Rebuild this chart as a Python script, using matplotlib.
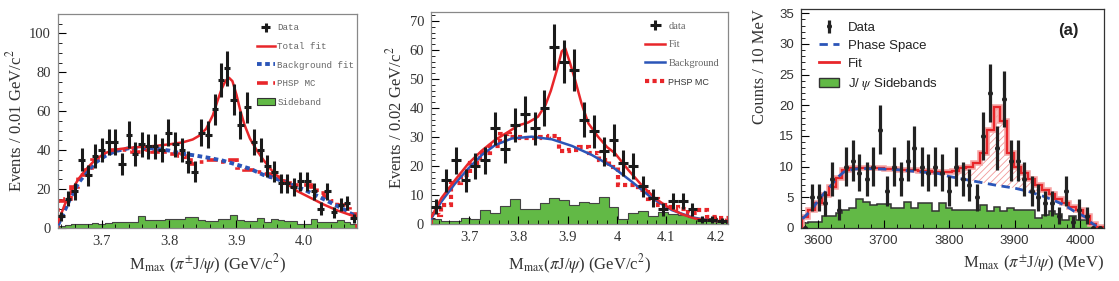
import numpy as np
import matplotlib
matplotlib.use("Agg")
import matplotlib.pyplot as plt
from matplotlib.lines import Line2D
from matplotlib.patches import Patch
from matplotlib.ticker import MultipleLocator, FuncFormatter

plt.rcParams['font.family'] = ['Liberation Serif', 'DejaVu Serif']
plt.rcParams['mathtext.fontset'] = 'stix'
plt.rcParams['hatch.linewidth'] = 0.6

# ---------------- Panel 1 (0.01 GeV bins) ----------------
p1_x = [3.640, 3.650, 3.660, 3.670, 3.680, 3.690, 3.700, 3.710, 3.719, 3.730,
        3.740, 3.749, 3.759, 3.769, 3.779, 3.789, 3.799, 3.809, 3.819, 3.828,
        3.838, 3.848, 3.858, 3.868, 3.877, 3.886, 3.896, 3.906, 3.916, 3.926,
        3.936, 3.946, 3.956, 3.966, 3.975, 3.985, 3.995, 4.005, 4.015, 4.025,
        4.035, 4.045, 4.055, 4.064, 4.074]
p1_data = [6, 15, 19, 35, 27, 37, 40, 44, 44, 33,
           48, 38, 43, 42, 42, 40, 49, 43, 40, 34,
           29, 49, 48, 61, 76, 82, 66, 53, 62, 44,
           40, 32, 29, 23, 23, 21, 24, 24, 19, 10,
           19, 8, 12, 13, 5]
p1_phsp = [14, 15, 21, 27, 31, 35, 38, 39, 40, 40,
           40, 39, 39, 40, 39, 40, 38, 38, 37, 35,
           33, 34, 35, 35, 34, 34, 35, 31, 30, 30,
           29, 28, 26, 24, 23, 22, 22, 22, 21, 18,
           16, 14, 12, 10, 7]
p1_side = [1.0, 1.4, 2.2, 2.2, 1.8, 2.6, 1.9, 2.6, 3.3, 3.0,
           3.3, 3.3, 6.0, 4.0, 4.0, 4.0, 4.8, 4.8, 4.8, 5.7,
           5.7, 4.0, 3.6, 3.6, 4.8, 4.8, 6.9, 4.3, 3.6, 3.6,
           5.3, 3.1, 4.8, 4.0, 3.6, 3.6, 2.2, 2.2, 4.8, 3.1,
           3.1, 3.1, 4.0, 2.9, 2.2]
p1_fit_x = [3.635, 3.645, 3.655, 3.665, 3.675, 3.690, 3.705, 3.720, 3.740, 3.760,
            3.780, 3.800, 3.820, 3.835, 3.845, 3.855, 3.865, 3.872, 3.878, 3.884,
            3.889, 3.894, 3.900, 3.906, 3.912, 3.920, 3.930, 3.940, 3.955, 3.970,
            3.990, 4.010, 4.030, 4.050, 4.079]
p1_fit_y = [3, 12, 19, 25, 29.5, 35, 38.5, 40.3, 41.2, 41.7,
            42.2, 43.0, 44, 45.5, 47.5, 51, 58, 65.5, 71.5, 75.8,
            77.2, 75.5, 68.5, 60, 53, 46, 40, 35, 28.5, 24,
            19, 15.5, 12, 9, 5.5]
p1_bkg_x = [3.635, 3.645, 3.655, 3.665, 3.675, 3.690, 3.705, 3.720, 3.740, 3.760,
            3.780, 3.800, 3.820, 3.840, 3.860, 3.880, 3.900, 3.920, 3.940, 3.960,
            3.980, 4.000, 4.020, 4.040, 4.060, 4.079]
p1_bkg_y = [1.5, 9, 16.5, 23, 27.5, 33.5, 37, 39.5, 41, 41.3,
            40.8, 39.8, 38.2, 37.2, 36.0, 34.6, 32.6, 30.5, 27.3, 25.2,
            22.5, 19.8, 16.5, 13, 9.5, 5.5]

# ---------------- Panel 2 (0.02 GeV bins) ----------------
p2_x = [3.633, 3.653, 3.673, 3.693, 3.713, 3.733, 3.753, 3.773, 3.793, 3.813,
        3.833, 3.853, 3.873, 3.893, 3.913, 3.933, 3.953, 3.973, 3.993, 4.013,
        4.033, 4.053, 4.073, 4.093, 4.113, 4.133, 4.153, 4.173, 4.193, 4.213]
p2_data = [6, 15, 22, 15, 20, 22, 33, 26, 34, 38,
           33, 40, 61, 56, 53, 36, 32, 25, 29, 21,
           20, 13, 9, 5, 8, 8, 5, 1.5, 1.5, 1]
p2_phsp = [3, 6.5, 14, 17, 21, 24.5, 27, 31, 30, 29.5,
           29.5, 30, 30.5, 25, 25.5, 26.5, 24.5, 22, 19.5, 13.5,
           13.5, 11.7, 8.5, 6.5, 5.7, 5, 3.7, 4.8, 2.5, 2]
p2_side = [1.6, 1.0, 1.0, 2.0, 1.6, 4.8, 3.9, 6.2, 8.5, 5.1,
           5.1, 7.1, 8.9, 8.3, 6.6, 7.7, 7.4, 9.2, 5.7, 1.8,
           3.7, 4.6, 2.9, 4.0, 3.5, 3.1, 2.3, 1.6, 2.0, 1.4]
p2_fit_x = [3.624, 3.644, 3.672, 3.699, 3.726, 3.753, 3.780, 3.800, 3.820, 3.840,
            3.855, 3.866, 3.878, 3.888, 3.895, 3.905, 3.915, 3.928, 3.942, 3.962,
            3.980, 3.996, 4.023, 4.050, 4.077, 4.104, 4.131, 4.158, 4.192, 4.224]
p2_fit_y = [2.5, 8.9, 15.2, 20.9, 25.3, 29, 31.8, 34, 35, 37,
            41, 46, 53, 59.5, 60.6, 55.4, 49.7, 41.6, 34.7, 30,
            26.5, 24.4, 18.6, 13.4, 8.9, 5.7, 3.4, 1.9, 1.1, 0.8]
p2_bkg_x = [3.624, 3.644, 3.672, 3.699, 3.726, 3.753, 3.787, 3.827, 3.868, 3.909,
            3.949, 3.990, 4.030, 4.071, 4.111, 4.152, 4.192, 4.224]
p2_bkg_y = [2, 7.7, 14, 19.2, 23.8, 27.2, 29.5, 30.1, 29.2, 26.9,
            23.8, 19.8, 14.6, 8.9, 4.8, 2.3, 1.1, 0.8]

# ---------------- Panel 3 (MeV) ----------------
p3_x = [3580, 3590, 3601, 3611, 3621, 3632, 3642, 3653, 3663, 3674,
        3684, 3695, 3705, 3716, 3726, 3737, 3747, 3758, 3768, 3779,
        3789, 3800, 3810, 3821, 3831, 3842, 3852, 3863, 3873, 3884,
        3894, 3905, 3915, 3926, 3936, 3947, 3957, 3968, 3978, 3989,
        3999, 4010, 4020, 4030]
p3_data = [0, 5, 5, 4, 8, 3, 10, 11, 9, 8,
           10, 16, 6, 10, 8, 11, 13, 10, 9, 10,
           9, 6, 10, 8, 7, 5, 15, 22, 13, 21,
           11, 11, 8, 6, 5, 4, 4, 2, 6, 1,
           3, 2, 0, 0]
p3_fit = [1.8, 3.0, 4.1, 5.4, 6.7, 8.1, 9.4, 9.7, 9.8, 9.8,
          9.7, 9.7, 9.6, 9.6, 9.5, 9.4, 9.4, 9.3, 9.3, 9.2,
          9.1, 9.1, 9.3, 9.7, 10.0, 10.6, 12.3, 16.0, 19.8, 17.5,
          12.2, 10.0, 9.0, 8.0, 7.0, 6.2, 5.5, 4.8, 4.0, 3.5,
          3.0, 2.0, 0.6, 0.1]
p3_side = [0.8, 1.0, 1.0, 2.0, 1.9, 2.5, 3.0, 3.3, 4.8, 4.2,
           3.7, 3.9, 3.9, 3.3, 3.3, 4.2, 3.3, 4.1, 4.1, 2.8,
           4.0, 3.2, 3.0, 3.0, 3.0, 3.0, 3.7, 2.8, 3.5, 2.8,
           3.3, 2.9, 2.9, 2.9, 1.7, 2.1, 2.8, 2.3, 1.3, 1.9,
           1.3, 1.3, 0.5, 0.0]
p3_ps_x = [3576, 3590, 3600, 3610, 3620, 3630, 3640, 3655, 3670, 3700,
           3722, 3750, 3783, 3800, 3820, 3840, 3870, 3900, 3920, 3946,
           3960, 3977, 3990, 4008, 4018, 4025]
p3_ps_y = [1.5, 3.0, 4.5, 5.8, 7.0, 8.3, 9.2, 9.6, 9.7, 9.6,
           9.5, 9.2, 8.9, 8.4, 8.0, 7.6, 7.0, 6.5, 6.0, 5.1,
           4.5, 3.7, 2.8, 1.8, 0.8, 0.3]

RED = '#e8262a'
BLUE = '#2b55b8'
GREEN = '#62b946'
TXT = '#333333'


def edges_of(c):
    c = np.asarray(c, float)
    mid = (c[:-1] + c[1:]) / 2
    return np.concatenate([[c[0] - (c[1] - c[0]) / 2], mid, [c[-1] + (c[-1] - c[-2]) / 2]])


fig = plt.figure(figsize=(11.19, 2.81), dpi=100)
ax1 = fig.add_axes([58 / 1119, 53 / 281, 299 / 1119, 214 / 281])
ax2 = fig.add_axes([431 / 1119, 57 / 281, 297 / 1119, 212 / 281])
ax3 = fig.add_axes([801 / 1119, 53 / 281, 303 / 1119, 219 / 281])

# ---------------- Panel 1 ----------------
e1 = edges_of(p1_x)
ax1.stairs(p1_side, e1, fill=True, color=GREEN, zorder=1)
ax1.stairs(p1_side, e1, fill=False, color='#444444', lw=0.8, zorder=1.1)
ax1.stairs(p1_phsp, e1, color=RED, lw=2.6, linestyle=(0, (3, 1.5, 1, 1.5)), zorder=2)
ax1.plot(p1_bkg_x, p1_bkg_y, color=BLUE, lw=2.8, linestyle=(0, (1.2, 0.9)), zorder=3)
ax1.plot(p1_fit_x, p1_fit_y, color=RED, lw=1.8, zorder=4)
xe1 = np.diff(e1) / 2
eb1 = ax1.errorbar(p1_x, p1_data, xerr=xe1, yerr=np.sqrt(p1_data), fmt='none',
                   ecolor='#1a1a1a', elinewidth=2.2, capsize=0, zorder=5)
ax1.set_xlim(3.635, 4.079)
ax1.set_ylim(0, 110)
ax1.xaxis.set_major_locator(MultipleLocator(0.1))
ax1.xaxis.set_minor_locator(MultipleLocator(0.02))
ax1.yaxis.set_major_locator(MultipleLocator(20))
ax1.yaxis.set_minor_locator(MultipleLocator(5))
ax1.xaxis.set_major_formatter(FuncFormatter(lambda v, p: f"{v:.1f}"))
ax1.set_ylabel(r"Events / 0.01 GeV/c$^{2}$", fontsize=12, color=TXT, labelpad=3)
ax1.set_xlabel(r"M$_{\rm max}$ ($\pi^{\pm}$J/$\psi$) (GeV/c$^{2}$)", fontsize=12, color=TXT, labelpad=3)
h1 = [eb1,
      Line2D([], [], color=RED, lw=1.8),
      Line2D([], [], color=BLUE, lw=2.8, linestyle=(0, (1.2, 0.9))),
      Line2D([], [], color=RED, lw=2.6, linestyle=(0, (3, 1.5, 1, 1.5))),
      Patch(facecolor=GREEN, edgecolor='#333333', lw=0.8)]
ax1.legend(h1, ["Data", "Total fit", "Background fit", "PHSP MC", "Sideband"],
           loc='upper left', bbox_to_anchor=(0.66, 0.965), frameon=False,
           prop=dict(family='Liberation Mono', size=6.6), labelcolor='#666666',
           handlelength=1.9, handletextpad=0.3, labelspacing=1.05, borderaxespad=0, borderpad=0.2)

# ---------------- Panel 2 ----------------
e2 = edges_of(p2_x)
ax2.stairs(p2_side, e2, fill=True, color=GREEN, zorder=1)
ax2.stairs(p2_side, e2, fill=False, color='#444444', lw=0.8, zorder=1.1)
ax2.stairs(p2_phsp, e2, color=RED, lw=3.0, linestyle=(0, (1.0, 0.8)), zorder=2)
ax2.plot(p2_bkg_x, p2_bkg_y, color=BLUE, lw=1.8, zorder=3)
ax2.plot(p2_fit_x, p2_fit_y, color=RED, lw=1.8, zorder=4)
xe2 = np.diff(e2) / 2
eb2 = ax2.errorbar(p2_x, p2_data, xerr=xe2, yerr=np.sqrt(p2_data), fmt='none',
                   ecolor='#1a1a1a', elinewidth=2.2, capsize=0, zorder=5)
ax2.set_xlim(3.623, 4.225)
ax2.set_ylim(0, 73.1)
ax2.xaxis.set_major_locator(MultipleLocator(0.1))
ax2.xaxis.set_minor_locator(MultipleLocator(0.02))
ax2.yaxis.set_major_locator(MultipleLocator(10))
ax2.yaxis.set_minor_locator(MultipleLocator(2))
ax2.xaxis.set_major_formatter(FuncFormatter(lambda v, p: f"{round(v, 1):g}"))
ax2.set_ylabel(r"Events / 0.02 GeV/c$^{2}$", fontsize=12, color=TXT, labelpad=3)
ax2.set_xlabel(r"M$_{\rm max}$($\pi$J/$\psi$) (GeV/c$^{2}$)", fontsize=12, color=TXT, labelpad=6)
h2 = [eb2,
      Line2D([], [], color=RED, lw=1.8),
      Line2D([], [], color=BLUE, lw=1.8),
      Line2D([], [], color=RED, lw=3.0, linestyle=(0, (1.0, 0.8)))]
leg2 = ax2.legend(h2, ["data", "Fit", "Background", "PHSP MC"],
                  loc='upper left', bbox_to_anchor=(0.715, 0.965), frameon=False,
                  prop=dict(family='Liberation Serif', size=7.5), labelcolor='#666666',
                  handlelength=1.9, handletextpad=0.3, labelspacing=0.9, borderaxespad=0, borderpad=0.2)
for t in leg2.get_texts()[3:]:
    t.set_fontfamily('Liberation Sans')
    t.set_fontsize(6.5)
    t.set_color('#333333')

# ---------------- Panel 3 ----------------
e3 = edges_of(p3_x)
ax3.stairs(p3_side, e3, fill=True, color=GREEN, zorder=1)
ax3.stairs(p3_side, e3, fill=False, color='#333333', lw=1.1, zorder=1.1)
# hatched excess between phase space and fit
grid = np.linspace(e3[0], e3[-1], 2000)
idx = np.clip(np.searchsorted(e3, grid, side='right') - 1, 0, len(p3_fit) - 1)
fit_on_grid = np.asarray(p3_fit)[idx]
ps_on_grid = np.interp(grid, p3_ps_x, p3_ps_y)
sel = (grid > 3812) & (grid < 3936)
ax3.fill_between(grid, ps_on_grid, fit_on_grid, where=sel & (fit_on_grid > ps_on_grid),
                 facecolor='none', edgecolor='#f29a9a', hatch='/////', lw=0, zorder=1.5)
ax3.stairs(p3_fit, e3, color='#f6a5a5', lw=4.0, zorder=2)
ax3.stairs(p3_fit, e3, color=RED, lw=1.6, zorder=2.1)
ax3.plot(p3_ps_x, p3_ps_y, color=BLUE, lw=2.0, linestyle=(0, (3.0, 2.0)), zorder=3)
eb3 = ax3.errorbar(p3_x, p3_data, yerr=np.sqrt(p3_data), fmt='o', ms=2.6, color='#222222',
                   elinewidth=2.3, capsize=0, zorder=5)
ax3.set_xlim(3573.6, 4036.7)
ax3.set_ylim(0, 35.7)
ax3.xaxis.set_major_locator(MultipleLocator(100))
ax3.xaxis.set_minor_locator(MultipleLocator(20))
ax3.yaxis.set_major_locator(MultipleLocator(5))
ax3.yaxis.set_minor_locator(MultipleLocator(1))
ax3.set_ylabel("Counts / 10 MeV", fontsize=12, color=TXT, loc='top', labelpad=8)
ax3.set_xlabel(r"M$_{\rm max}$ ($\pi^{\pm}$J/$\psi$) (MeV)", fontsize=12, color=TXT, loc='right', labelpad=4)
h3 = [eb3,
      Line2D([], [], color=BLUE, lw=2.0, linestyle=(0, (3.0, 2.0))),
      Line2D([], [], color=RED, lw=2.0),
      Patch(facecolor=GREEN, edgecolor='#333333', lw=1.0)]
ax3.legend(h3, ["Data", "Phase Space", "Fit", r"J/ $\psi$ Sidebands"],
           loc='upper left', bbox_to_anchor=(0.05, 0.955), frameon=False,
           prop=dict(family='Liberation Sans', size=9.5), labelcolor='#222222',
           handlelength=1.5, handletextpad=0.7, labelspacing=0.45, borderaxespad=0, borderpad=0.2)
ax3.text(0.915, 0.9, "(a)", transform=ax3.transAxes, ha='right', va='center',
         fontsize=12, fontweight='bold', family='Liberation Sans', color='#222222')

for ax, fam, fs in [(ax1, 'Liberation Serif', 10.5), (ax2, 'Liberation Serif', 10.5), (ax3, 'Liberation Sans', 9.5)]:
    ax.tick_params(which='both', direction='in', top=False, right=False,
                   labelsize=fs, labelcolor=TXT, labelfontfamily=fam)
    ax.tick_params(which='major', length=6, width=0.8, pad=5)
    ax.tick_params(which='minor', length=3, width=0.6)
for ax in (ax1, ax2):
    for s in ax.spines.values():
        s.set_color('#888888')
        s.set_linewidth(0.9)
for s in ax3.spines.values():
    s.set_color('#333333')
    s.set_linewidth(0.9)

fig.savefig("out.png", dpi=100)
